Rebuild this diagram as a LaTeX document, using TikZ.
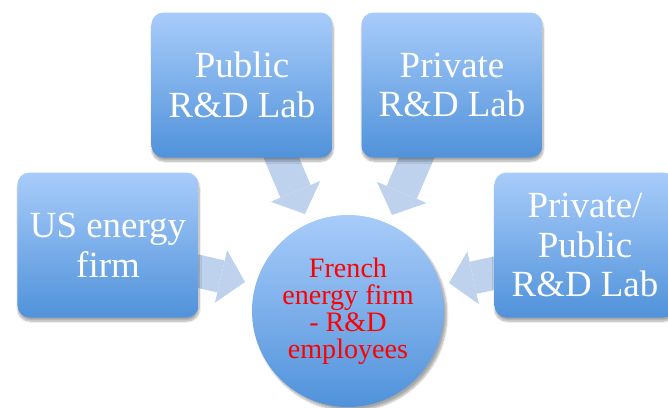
\documentclass[tikz,border=0pt]{standalone}
\usepackage{fontspec}
\setmainfont{Liberation Serif}
\usetikzlibrary{arrows.meta,shadows.blur,backgrounds}

\definecolor{boxtop}{RGB}{168,204,250}
\definecolor{boxbot}{RGB}{80,146,218}
\definecolor{flowblue}{RGB}{190,210,238}

\begin{document}
\begin{tikzpicture}[x=0.03cm,y=-0.03cm,
  lab/.style={rectangle,rounded corners=0.36cm,minimum width=5.43cm,minimum height=4.35cm,
    top color=boxtop,bottom color=boxbot,text=white,align=center,
    font=\fontsize{31.5}{34}\selectfont,
    blur shadow={shadow xshift=0.5pt,shadow yshift=-3pt,shadow blur steps=8,shadow opacity=35}},
  flow/.style={line width=28pt,draw=flowblue,
    -{Triangle[length=21pt,width=46pt,line width=0pt]}}]

\useasboundingbox (0,0) rectangle (668,407);
\clip (0,0) rectangle (668,407);

\node (pub) at (242,85) [lab] {Public\\R\&D Lab};
\node (priv) at (452,85) [lab] {Private\\R\&D Lab};
\node (us) at (108,245) [lab] {US energy\\firm};
\node (pp) at (585,245) [lab] {Private/\\Public\\R\&D Lab};

\node (fr) at (348,311) [circle,minimum size=5.76cm,top color=boxtop,bottom color=boxbot,
  text=red,align=center,font=\fontsize{24}{23}\selectfont,
  blur shadow={shadow yshift=-3pt,shadow blur steps=8,shadow opacity=35}]
  {French\\energy firm\\- R\&D\\employees};

% arrows go behind the boxes
\begin{scope}[on background layer]
\draw[flow] ([shift={(36,-8)}]pub.south) -- ([shift={(-43,-97)}]fr.center);
\draw[flow] ([shift={(-32,-8)}]priv.south) -- ([shift={(44,-96)}]fr.center);
\draw[flow] ([shift={(-10,24)}]us.east) -- ([shift={(-103,-29)}]fr.center);
\draw[flow] ([shift={(10,26)}]pp.west) -- ([shift={(101,-28)}]fr.center);
\end{scope}

\end{tikzpicture}
\end{document}
